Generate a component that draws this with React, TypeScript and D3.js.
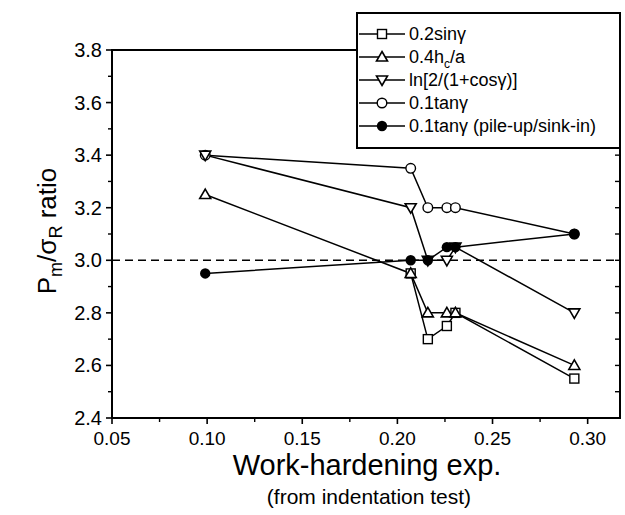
import React, { useEffect, useRef } from "react";
import * as d3 from "d3";

// work-hardening exponent (from indentation test)
const xValues = [0.099, 0.207, 0.216, 0.226, 0.2305, 0.293];

const sinValues = [null, 2.95, 2.7, 2.75, 2.8, 2.55];
const hcValues = [3.25, 2.95, 2.8, 2.8, 2.8, 2.6];
const lnValues = [3.4, 3.2, 3.0, 3.0, 3.05, 2.8];
const tanValues = [3.4, 3.35, 3.2, 3.2, 3.2, 3.1];
const pileValues = [2.95, 3.0, 3.0, 3.05, 3.05, 3.1];

const xTicks = [0.05, 0.1, 0.15, 0.2, 0.25, 0.3];
const yTicks = [2.4, 2.6, 2.8, 3.0, 3.2, 3.4, 3.6, 3.8];

const FONT = "'Liberation Sans', Arial, Helvetica, sans-serif";

export default function App() {
  const ref = useRef<SVGSVGElement | null>(null);

  useEffect(() => {
    drawChart();
  }, []);

  function drawChart() {
    const svg = d3.select(ref.current);
    svg.selectAll("*").remove();

    const left = 112, right = 620, top = 50, bottom = 418;

    const x = d3.scaleLinear().domain([0.05, 0.317]).range([left, right]);
    const y = d3.scaleLinear().domain([2.4, 3.8]).range([bottom, top]);

    const g = svg.append("g");

    // reference line at 3.0
    g.append("line")
      .attr("x1", left).attr("x2", right)
      .attr("y1", y(3)).attr("y2", y(3))
      .attr("stroke", "#000").attr("stroke-width", 1.6)
      .attr("stroke-dasharray", "8,5");

    // frame
    g.append("rect")
      .attr("x", left).attr("y", top)
      .attr("width", right - left).attr("height", bottom - top)
      .attr("fill", "none").attr("stroke", "#000").attr("stroke-width", 2);

    // x ticks
    const xMinor = d3.range(0.075, 0.317, 0.05);
    xTicks.forEach((t) => {
      g.append("line").attr("x1", x(t)).attr("x2", x(t))
        .attr("y1", bottom).attr("y2", bottom + 6)
        .attr("stroke", "#000").attr("stroke-width", 1.6);
      g.append("text").attr("x", x(t)).attr("y", bottom + 27)
        .attr("text-anchor", "middle").attr("font-family", FONT)
        .attr("font-size", 19).text(d3.format(".2f")(t));
    });
    xMinor.forEach((t) => {
      g.append("line").attr("x1", x(t)).attr("x2", x(t))
        .attr("y1", bottom).attr("y2", bottom + 4)
        .attr("stroke", "#000").attr("stroke-width", 1.4);
    });

    // y ticks
    const yMinor = d3.range(2.5, 3.8, 0.2);
    yTicks.forEach((t) => {
      g.append("line").attr("x1", left - 6).attr("x2", left)
        .attr("y1", y(t)).attr("y2", y(t))
        .attr("stroke", "#000").attr("stroke-width", 1.6);
      g.append("text").attr("x", left - 10).attr("y", y(t) + 7)
        .attr("text-anchor", "end").attr("font-family", FONT)
        .attr("font-size", 20).text(d3.format(".1f")(t));
    });
    yMinor.forEach((t) => {
      g.append("line").attr("x1", left - 4).attr("x2", left)
        .attr("y1", y(t)).attr("y2", y(t))
        .attr("stroke", "#000").attr("stroke-width", 1.4);
    });
    // right axis ticks (inward)
    d3.range(2.5, 3.8, 0.1).forEach((t) => {
      g.append("line").attr("x1", right - 5).attr("x2", right)
        .attr("y1", y(t)).attr("y2", y(t))
        .attr("stroke", "#000").attr("stroke-width", 1.4);
    });

    // axis titles
    g.append("text").attr("x", 367).attr("y", 475)
      .attr("text-anchor", "middle").attr("font-family", FONT)
      .attr("font-size", 29).text("Work-hardening exp.");
    g.append("text").attr("x", 369).attr("y", 504)
      .attr("text-anchor", "middle").attr("font-family", FONT)
      .attr("font-size", 21).text("(from indentation test)");

    const yl = g.append("text")
      .attr("transform", "translate(56,231) rotate(-90)")
      .attr("text-anchor", "middle").attr("font-family", FONT)
      .attr("font-size", 26);
    yl.append("tspan").text("P");
    yl.append("tspan").attr("font-size", 18).attr("dy", 6).text("m");
    yl.append("tspan").attr("dy", -6).text("/σ");
    yl.append("tspan").attr("font-size", 18).attr("dy", 6).text("R");
    yl.append("tspan").attr("dy", -6).text(" ratio");

    // series
    const series = [
      { name: "0.2sinγ", values: sinValues, marker: "square" },
      { name: "0.4hc/a", values: hcValues, marker: "up" },
      { name: "ln[2/(1+cosγ)]", values: lnValues, marker: "down" },
      { name: "0.1tanγ", values: tanValues, marker: "circle" },
      { name: "0.1tanγ (pile-up/sink-in)", values: pileValues, marker: "filled" },
    ];

    const line = d3.line<[number, number | null]>()
      .defined((d) => d[1] != null)
      .x((d) => x(d[0]))
      .y((d) => y(d[1] as number));

    function drawMarker(sel: any, kind: string, cx: number, cy: number) {
      if (kind === "square") {
        sel.append("rect").attr("x", cx - 4.5).attr("y", cy - 4.5)
          .attr("width", 9).attr("height", 9)
          .attr("fill", "#fff").attr("stroke", "#000").attr("stroke-width", 1.4);
      } else if (kind === "up") {
        sel.append("path")
          .attr("d", `M${cx},${cy - 5.5}L${cx + 5.5},${cy + 4}L${cx - 5.5},${cy + 4}Z`)
          .attr("fill", "#fff").attr("stroke", "#000").attr("stroke-width", 1.6);
      } else if (kind === "down") {
        sel.append("path")
          .attr("d", `M${cx},${cy + 5.5}L${cx + 5.5},${cy - 4}L${cx - 5.5},${cy - 4}Z`)
          .attr("fill", "#fff").attr("stroke", "#000").attr("stroke-width", 1.6);
      } else if (kind === "circle") {
        sel.append("circle").attr("cx", cx).attr("cy", cy).attr("r", 4.8)
          .attr("fill", "#fff").attr("stroke", "#000").attr("stroke-width", 1.4);
      } else {
        sel.append("circle").attr("cx", cx).attr("cy", cy).attr("r", 5.2)
          .attr("fill", "#000");
      }
    }

    series.forEach((s) => {
      const pts = xValues.map((v, i) => [v, s.values[i]] as [number, number | null]);
      g.append("path").attr("d", line(pts))
        .attr("fill", "none").attr("stroke", "#000").attr("stroke-width", 1.5);
    });
    // markers drawn in this order so overlaps look like the original
    const order = [0, 1, 3, 2, 4];
    order.forEach((k) => {
      const s = series[k];
      xValues.forEach((v, i) => {
        const val = s.values[i];
        if (val == null) return;
        drawMarker(g, s.marker, x(v), y(val));
      });
    });

    // legend
    const lg = g.append("g");
    lg.append("rect").attr("x", 357).attr("y", 13)
      .attr("width", 263).attr("height", 135)
      .attr("fill", "#fff").attr("stroke", "#000").attr("stroke-width", 2);
    series.forEach((s, i) => {
      const ly = 34 + i * 23;
      lg.append("line").attr("x1", 359).attr("x2", 405)
        .attr("y1", ly).attr("y2", ly)
        .attr("stroke", "#000").attr("stroke-width", 1.5);
      drawMarker(lg, s.marker, 382, ly);
      const t = lg.append("text").attr("x", 409).attr("y", ly + 6)
        .attr("font-family", FONT).attr("font-size", 18);
      if (s.marker === "up") {
        t.append("tspan").text("0.4h");
        t.append("tspan").attr("font-size", 12).attr("dy", 5).text("c");
        t.append("tspan").attr("dy", -5).text("/a");
      } else {
        t.text(s.name);
      }
    });
  }

  return (
    <div style={{ position: "absolute", left: 0, top: 0 }}>
      <svg ref={ref} width={625} height={515} style={{ display: "block", background: "#fff" }} />
    </div>
  );
}
